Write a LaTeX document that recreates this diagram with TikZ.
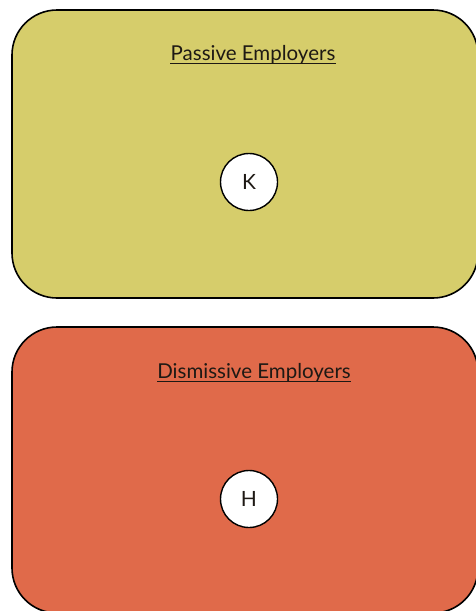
\documentclass[tikz,border=0pt]{standalone}
\usepackage{fontspec}
\setmainfont{Lato}
\definecolor{boxyellow}{RGB}{214,205,107}
\definecolor{boxorange}{RGB}{224,106,74}
\definecolor{inktext}{RGB}{30,25,20}
\begin{document}
\begin{tikzpicture}[x=1pt,y=-1pt,
  panel/.style={draw=black, line width=1.6pt, rounded corners=45pt},
  title/.style={font=\fontsize{20.5}{24}\selectfont, text=inktext, inner sep=0pt, anchor=base},
  person/.style={circle, draw=black, line width=1.4pt, fill=white, minimum size=57pt, inner sep=0pt, font=\fontsize{21}{24}\selectfont, text=inktext}]
\useasboundingbox (0,0) rectangle (475,611);
\fill[white] (0,0) rectangle (475,611);
\draw[panel, fill=boxyellow] (12,10) rectangle (478,298);
\draw[panel, fill=boxorange] (12,327) rectangle (478,613);
\node[title] (t1) at (253,60) {Passive Employers};
\draw[inktext, line width=1.1pt] ([yshift=-3.5pt]t1.base west) -- ([yshift=-3.5pt]t1.base east);
\node[title] (t2) at (254,378) {Dismissive Employers};
\draw[inktext, line width=1.1pt] ([yshift=-3.5pt]t2.base west) -- ([yshift=-3.5pt]t2.base east);
\node[person] (k) at (249,182) {K};
\node[person] (h) at (249,499) {H};
\end{tikzpicture}
\end{document}
